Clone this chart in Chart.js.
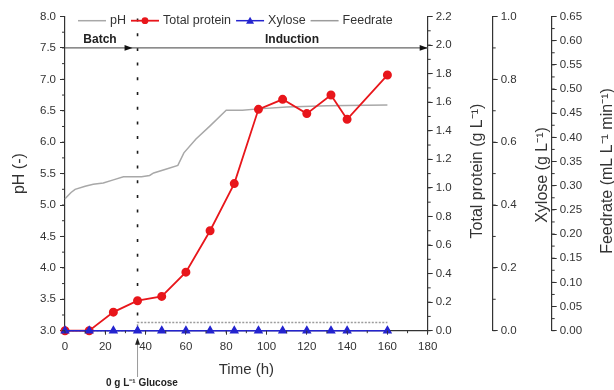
<!DOCTYPE html>
<html>
<head>
<meta charset="utf-8">
<script src="https://cdn.jsdelivr.net/npm/chart.js@4.4.1/dist/chart.umd.min.js"></script>
<style>
  html, body { margin: 0; padding: 0; background: #fff; }
  #wrap { width: 614px; height: 390px; position: relative; }
</style>
</head>
<body>
<div id="wrap"><canvas id="fermChart"></canvas></div>
<script>
// pH trace
const phTime = [0, 3, 5, 10, 14, 19, 24, 29, 35, 38, 42, 44, 50, 56, 59, 65, 72, 80, 88, 96, 110, 130, 160];
const phValue = [5.1, 5.2, 5.25, 5.3, 5.33, 5.35, 5.4, 5.45, 5.45, 5.45, 5.47, 5.51, 5.57, 5.63, 5.83, 6.05, 6.26, 6.51, 6.51, 6.53, 6.56, 6.58, 6.59];

// offline samples (h)
const sampleTime = [0, 12, 24, 36, 48, 60, 72, 84, 96, 108, 120, 132, 140, 160];
const totalProtein = [0, 0, 0.13, 0.21, 0.24, 0.41, 0.70, 1.03, 1.55, 1.62, 1.52, 1.65, 1.48, 1.79];
const xylose = [0, 0, 0, 0, 0, 0, 0, 0, 0, 0, 0, 0, 0, 0];

// feed pump
const feedTime = [0, 36, 36, 160];
const feedRate = [0, 0, 0.017, 0.017];

// tick labels
const timeTicks = [0, 20, 40, 60, 80, 100, 120, 140, 160, 180];
const phTicks = [3.0, 3.5, 4.0, 4.5, 5.0, 5.5, 6.0, 6.5, 7.0, 7.5, 8.0];
const proteinTicks = [0, 0.2, 0.4, 0.6, 0.8, 1.0, 1.2, 1.4, 1.6, 1.8, 2.0, 2.2];
const xyloseTicks = [0, 0.2, 0.4, 0.6, 0.8, 1.0];
const feedTicks = [0, 0.05, 0.1, 0.15, 0.2, 0.25, 0.3, 0.35, 0.4, 0.45, 0.5, 0.55, 0.6, 0.65];

// phase annotation
const inductionStart = 36;
const arrowLevel = 7.5;
const phaseNames = ["Batch", "Induction"];
const glucoseNote = "0 g L\u207B\u00B9 Glucose";

const FONT = "'Liberation Sans', Arial, sans-serif";
const AXIS = "#333";

function pairs(xs, ys) {
    return xs.map(function (x, i) { return { x: x, y: ys[i] }; });
}

function setTicks(list) {
    return function (scale) {
        scale.ticks = list.map(function (v) { return { value: v }; });
    };
}

function axisOpts(pos, min, max, list, digits, width) {
    return {
        type: "linear",
        position: pos,
        min: min,
        max: max,
        afterBuildTicks: setTicks(list),
        afterFit: function (s) { s.width = width; },
        ticks: {
            color: AXIS,
            font: { family: FONT, size: 11.5 },
            padding: pos === "left" ? 4 : 3,
            callback: function (v) { return Number(v).toFixed(digits); }
        },
        grid: { drawOnChartArea: false, tickLength: 5, color: AXIS, lineWidth: 1 },
        border: { color: AXIS, width: 1.2 }
    };
}

const yLeft = axisOpts("left", 3, 8, phTicks, 1, 65);
yLeft.title = {
    display: true, text: "pH (-)", color: AXIS,
    font: { family: FONT, size: 16 }, padding: { top: 10.4, bottom: 0 }
};

const data = {
    datasets: [
        {
            label: "Xylose",
            data: pairs(sampleTime, xylose),
            yAxisID: "yXyl",
            borderColor: "#2424cf",
            backgroundColor: "#2424cf",
            borderWidth: 1.5,
            pointStyle: "triangle",
            pointRadius: 4,
            clip: false,
            order: 0
        },
        {
            label: "Total protein",
            data: pairs(sampleTime, totalProtein),
            yAxisID: "yProt",
            borderColor: "#e8161b",
            backgroundColor: "#e8161b",
            borderWidth: 1.8,
            pointStyle: "circle",
            pointRadius: 3.6,
            clip: false,
            order: 1
        },
        {
            label: "Feedrate",
            data: pairs(feedTime, feedRate),
            yAxisID: "yFeed",
            borderColor: "#9c9c9c",
            borderWidth: 1.5,
            borderDash: [2, 1.5],
            pointRadius: 0,
            clip: false,
            order: 2
        },
        {
            label: "pH",
            data: pairs(phTime, phValue),
            yAxisID: "y",
            borderColor: "#a8a8a8",
            borderWidth: 1.5,
            pointRadius: 0,
            clip: false,
            order: 3
        }
    ]
};

function minorTicks(ctx, scale, step, len, side) {
    const n = Math.round((scale.max - scale.min) / step);
    ctx.beginPath();
    for (let i = 0; i <= n; i++) {
        const p = scale.getPixelForValue(scale.min + i * step);
        if (side === "left") { ctx.moveTo(scale.right - len, p); ctx.lineTo(scale.right, p); }
        else if (side === "right") { ctx.moveTo(scale.left, p); ctx.lineTo(scale.left + len, p); }
        else { ctx.moveTo(p, scale.top); ctx.lineTo(p, scale.top + len); }
    }
    ctx.stroke();
}

function upTitle(ctx, text, x, y) {
    ctx.save();
    ctx.translate(x, y);
    ctx.rotate(-Math.PI / 2);
    ctx.textAlign = "center";
    ctx.textBaseline = "middle";
    ctx.fillText(text, 0, 0);
    ctx.restore();
}

function arrowHead(ctx, tx, ty, dir) {
    ctx.beginPath();
    if (dir === "right") { ctx.moveTo(tx, ty); ctx.lineTo(tx - 8, ty - 2.8); ctx.lineTo(tx - 8, ty + 2.8); }
    else { ctx.moveTo(tx, ty); ctx.lineTo(tx - 2.5, ty + 7); ctx.lineTo(tx + 2.5, ty + 7); }
    ctx.closePath();
    ctx.fill();
}

const extras = {
    id: "extras",
    beforeDatasetsDraw(chart) {
        const ctx = chart.ctx;
        const area = chart.chartArea;
        const xs = chart.scales.x;
        const xi = xs.getPixelForValue(inductionStart);
        const yArrow = chart.scales.y.getPixelForValue(arrowLevel);
        ctx.save();
        // phase divider
        ctx.strokeStyle = "#1a1a1a";
        ctx.lineWidth = 1.6;
        ctx.setLineDash([3, 11.7]);
        ctx.beginPath();
        ctx.moveTo(xi, area.top + 2);
        ctx.lineTo(xi, area.bottom);
        ctx.stroke();
        ctx.setLineDash([]);
        // phase arrow line
        ctx.strokeStyle = "#666";
        ctx.lineWidth = 1.2;
        ctx.beginPath();
        ctx.moveTo(area.left, yArrow);
        ctx.lineTo(area.right, yArrow);
        ctx.stroke();
        ctx.fillStyle = "#111";
        arrowHead(ctx, xi - 5, yArrow, "right");
        arrowHead(ctx, area.right, yArrow, "right");
        ctx.font = "bold 12px " + FONT;
        ctx.textAlign = "center";
        ctx.textBaseline = "middle";
        ctx.fillStyle = "#222";
        ctx.fillText(phaseNames[0], 100, yArrow - 8.5);
        ctx.fillText(phaseNames[1], 292, yArrow - 8);
        ctx.restore();
    },
    afterDraw(chart) {
        const ctx = chart.ctx;
        const s = chart.scales;
        const area = chart.chartArea;
        ctx.save();
        ctx.strokeStyle = AXIS;
        ctx.lineWidth = 1;
        minorTicks(ctx, s.y, 0.25, 3, "left");
        minorTicks(ctx, s.yProt, 0.1, 3, "right");
        minorTicks(ctx, s.yXyl, 0.1, 3, "right");
        minorTicks(ctx, s.yFeed, 0.025, 3, "right");
        minorTicks(ctx, s.x, 10, 2.5, "bottom");

        // glucose marker under the axis
        const xi = s.x.getPixelForValue(inductionStart);
        ctx.strokeStyle = "#9a9a9a";
        ctx.beginPath();
        ctx.moveTo(xi, area.bottom + 9);
        ctx.lineTo(xi, 377);
        ctx.stroke();
        ctx.fillStyle = "#222";
        arrowHead(ctx, xi, area.bottom + 7, "up");
        ctx.font = "bold 10px " + FONT;
        ctx.textAlign = "left";
        ctx.textBaseline = "middle";
        ctx.fillText(glucoseNote, 106, 383.5);

        // right axis titles, reading bottom to top
        ctx.fillStyle = AXIS;
        ctx.font = "16px " + FONT;
        upTitle(ctx, "Total protein (g L\u207B\u00B9)", s.yProt.right - 15, 171);
        upTitle(ctx, "Xylose (g L\u207B\u00B9)", s.yXyl.right - 9, 175);
        upTitle(ctx, "Feedrate (mL L\u207B\u00B9 min\u207B\u00B9)", s.yFeed.right - 6, 171);

        // legend inside plot
        const order = ["pH", "Total protein", "Xylose", "Feedrate"];
        ctx.font = "12.5px " + FONT;
        let x = 78;
        const y = 20.7;
        order.forEach(function (name) {
            const ds = chart.data.datasets.find(function (d) { return d.label === name; });
            ctx.strokeStyle = ds.borderColor;
            ctx.lineWidth = ds.borderWidth;
            ctx.beginPath();
            ctx.moveTo(x, y);
            ctx.lineTo(x + 28, y);
            ctx.stroke();
            ctx.fillStyle = ds.borderColor;
            if (ds.pointStyle === "circle") {
                ctx.beginPath();
                ctx.arc(x + 14, y, 3.4, 0, Math.PI * 2);
                ctx.fill();
            } else if (ds.pointStyle === "triangle") {
                ctx.beginPath();
                ctx.moveTo(x + 14, y - 4);
                ctx.lineTo(x + 18, y + 3);
                ctx.lineTo(x + 10, y + 3);
                ctx.closePath();
                ctx.fill();
            }
            ctx.fillStyle = AXIS;
            ctx.fillText(name, x + 32, y);
            x += 32 + ctx.measureText(name).width + 5;
        });
        ctx.restore();
    }
};

const config = {
    type: "line",
    data,
    options: {
        responsive: true,
        maintainAspectRatio: false,
        animation: false,
        layout: { padding: { top: 16.5, left: 0, right: 0, bottom: 0 } },
        plugins: { legend: { display: false }, tooltip: { enabled: false } },
        scales: {
            x: {
                type: "linear",
                min: 0,
                max: 180,
                afterBuildTicks: setTicks(timeTicks),
                afterFit: function (s) { s.height = 59.3; },
                ticks: {
                    color: AXIS,
                    font: { family: FONT, size: 11.5 },
                    padding: 5,
                    maxRotation: 0,
                    autoSkip: false
                },
                grid: { drawOnChartArea: false, tickLength: 4, color: AXIS },
                border: { color: AXIS, width: 1.2 },
                title: {
                    display: true, text: "Time (h)", color: AXIS,
                    font: { family: FONT, size: 15 }, padding: { top: 0, bottom: 11 }
                }
            },
            y: yLeft,
            yProt: axisOpts("right", 0, 2.2, proteinTicks, 1, 65),
            yXyl: axisOpts("right", 0, 1, xyloseTicks, 1, 59),
            yFeed: axisOpts("right", 0, 0.65, feedTicks, 2, 62.3)
        }
    },
    plugins: [extras]
};

const myChart = new Chart(document.getElementById("fermChart"), config);
</script>
</body>
</html>
